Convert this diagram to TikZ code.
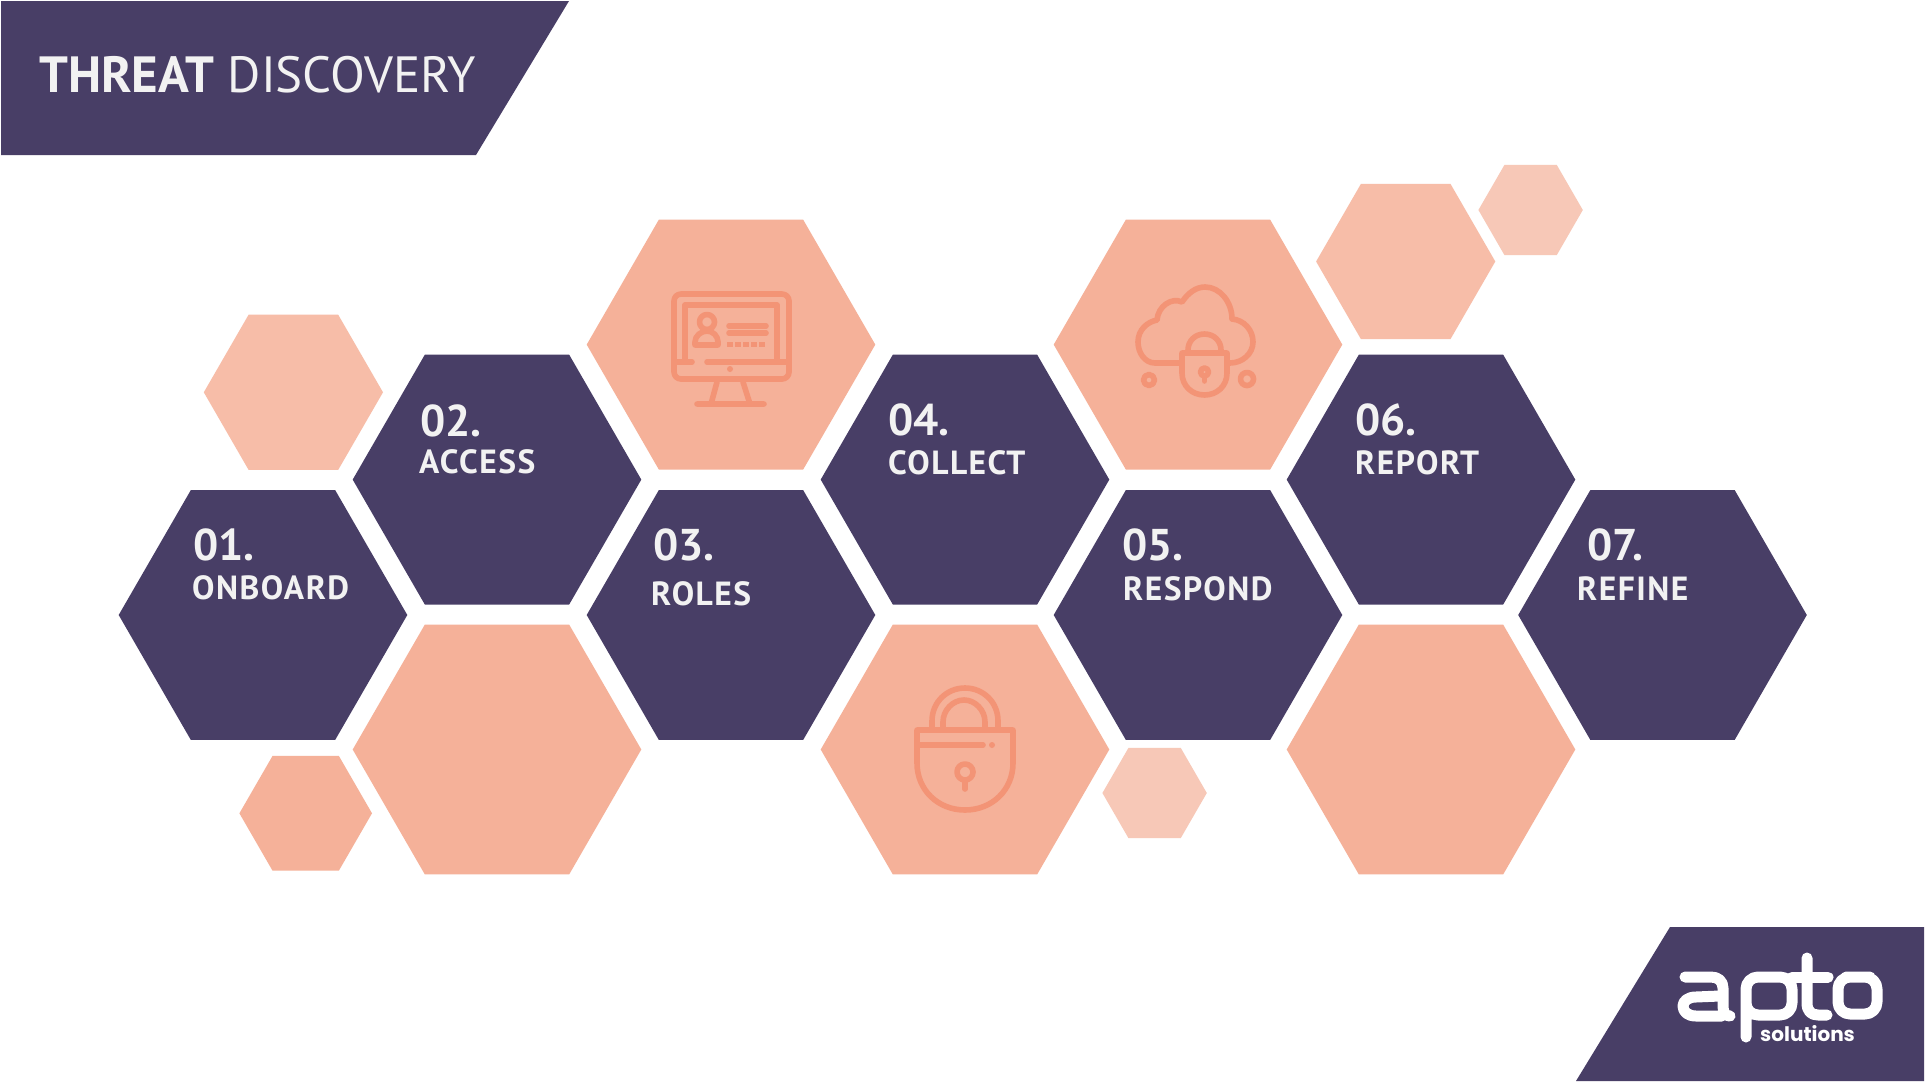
\documentclass[tikz,border=0pt]{standalone}
\usepackage{fontspec}
\setmainfont{PT Sans}
\newfontfamily\logofont{Poppins}
\newfontfamily\labfont[LetterSpace=4.5]{PT Sans}
\definecolor{navy}{HTML}{483E66}
\definecolor{peach}{HTML}{F5B199}
\definecolor{peachb}{HTML}{F7BDA8}
\definecolor{peachc}{HTML}{F7C8B7}
\definecolor{iconc}{HTML}{F39476}
\definecolor{paper}{HTML}{F2F2F2}
\newcommand{\hexa}[4]{\fill[#4] ({#1-#3},#2) -- ({#1-#3/2},{#2-.866*#3}) -- ({#1+#3/2},{#2-.866*#3}) -- ({#1+#3},#2) -- ({#1+#3/2},{#2+.866*#3}) -- ({#1-#3/2},{#2+.866*#3}) -- cycle;}
\tikzset{
 num/.style={anchor=base west,inner sep=0pt,text=paper,font=\fontsize{44.5}{44}\selectfont\bfseries},
 lab/.style={anchor=base west,inner sep=0pt,text=paper,font=\labfont\bfseries\fontsize{33.5}{33}\selectfont},
 icon/.style={draw=iconc,line width=5.6pt,line cap=round,line join=round},
 logo/.style={draw=white,line width=11pt,line cap=round,line join=round},
}
\begin{document}
\begin{tikzpicture}[x=1pt,y=-1pt]
\useasboundingbox (0,0) rectangle (1925,1082);
\fill[white] (0,0) rectangle (1925,1082);
% banners
\fill[navy] (1,1) -- (569,1) -- (476,155) -- (1,155) -- cycle;
\fill[navy] (1576,1081) -- (1670,927) -- (1924,927) -- (1924,1081) -- cycle;
% small
\hexa{293.4}{392.3}{89.6}{peachb}
\hexa{305.7}{813.3}{66.3}{peach}
\hexa{1154.6}{793}{52.2}{peachc}
\hexa{1405.7}{261.5}{89.6}{peachb}
\hexa{1530.6}{210}{52.2}{peachc}
% large peach
\hexa{731}{344.6}{144.3}{peach}
\hexa{1198}{344.6}{144.3}{peach}
\hexa{497}{749.5}{144.3}{peach}
\hexa{965}{749.5}{144.3}{peach}
\hexa{1431}{749.5}{144.3}{peach}
% navy
\hexa{263}{615}{144.3}{navy}
\hexa{497}{479.6}{144.3}{navy}
\hexa{731}{615}{144.3}{navy}
\hexa{965}{479.6}{144.3}{navy}
\hexa{1198}{615}{144.3}{navy}
\hexa{1431}{479.6}{144.3}{navy}
\hexa{1662.5}{615}{144.3}{navy}
% title
\node[anchor=base west,inner sep=0pt,text=paper,font=\fontsize{50.9}{52}\selectfont] (title) at (39,92) {\textbf{THREAT} DISCOVERY};
% labels
\node[num] (n1) at (193,560) {01.};
\node[lab] (l1) at (192,599.5) {ONBOARD};
\node[num] (n2) at (420,436) {02.};
\node[lab] (l2) at (419,473) {ACCESS};
\node[num] (n3) at (653,560) {03.};
\node[lab] (l3) at (651,605) {ROLES};
\node[num] (n4) at (888,435) {04.};
\node[lab] (l4) at (888,474) {COLLECT};
\node[num] (n5) at (1122,560) {05.};
\node[lab] (l5) at (1123,600) {RESPOND};
\node[num] (n6) at (1355,435) {06.};
\node[lab] (l6) at (1355,474) {REPORT};
\node[num] (n7) at (1587,560) {07.};
\node[lab] (l7) at (1577,600) {REFINE};
% monitor icon
\draw[icon,rounded corners=7pt] (674,362) -- (674,294) -- (789,294) -- (789,379) -- (674,379) -- cycle;
\draw[icon] (685,362) -- (685,305) -- (777,305) -- (777,362);
\draw[icon] (674,362) -- (692,362) (707,362) -- (789,362);
\fill[iconc] (730,369) circle (3pt);
\draw[icon] (717,382) -- (711,404) (743,382) -- (750,404) (697,404) -- (764,404);
\draw[icon] (707,322) circle (7.5pt);
\draw[icon] (695,345) -- (718,345) -- (718,342) .. controls (718,336) and (713,331) .. (707,331) .. controls (701,331) and (695,336) .. (695,342) -- cycle;
\draw[icon] (729,326) -- (766,326) (729,333) -- (766,333);
\foreach \q in {730,738,746,754,762} \fill[iconc] (\q-2.7,341.5) rectangle (\q+2.7,346.8);
% cloud lock icon
\draw[icon] (1182,363) -- (1155,363) .. controls (1145,363) and (1138,353) .. (1138,342) .. controls (1138,330) and (1147,322) .. (1157,320) .. controls (1158,306) and (1172,297) .. (1182,302) .. controls (1188,293) and (1196,287) .. (1205,287) .. controls (1220,287) and (1232,302) .. (1232,319) .. controls (1244,320) and (1253,330) .. (1253,342) .. controls (1253,354) and (1242,363) .. (1230,363);
\draw[icon] (1182,353) -- (1227,353) -- (1227,373) .. controls (1227,386) and (1217,395) .. (1204.5,395) .. controls (1192,395) and (1182,386) .. (1182,373) -- cycle;
\draw[icon] (1188,353) -- (1188,350) .. controls (1188,341) and (1195,334) .. (1204.5,334) .. controls (1214,334) and (1221,341) .. (1221,350) -- (1221,353);
\draw[icon] (1204.5,372) circle (4pt);
\draw[icon] (1204.5,376) -- (1204.5,381);
\draw[icon] (1149,380) circle (5.5pt);
\draw[icon] (1247,379) circle (6.5pt);
% padlock icon
\draw[icon] (917,730) -- (1013,730) -- (1013,763) .. controls (1013,790) and (992,810) .. (965,810) .. controls (938,810) and (917,790) .. (917,763) -- cycle;
\draw[icon] (932,730) -- (932,721) .. controls (932,702) and (947,688) .. (965,688) .. controls (983,688) and (998,702) .. (998,721) -- (998,730);
\draw[icon] (943,730) -- (943,722) .. controls (943,710) and (953,700) .. (964,700) .. controls (975,700) and (985,710) .. (985,722) -- (985,730);
\draw[icon] (918,745) -- (983,745);
\fill[iconc] (992,745) circle (3pt);
\draw[icon] (965,772) circle (8pt);
\draw[icon] (965,780) -- (965,789);
% logo
\draw[logo] (1685,977) -- (1711,977) .. controls (1718,977) and (1723,981) .. (1723,988) -- (1723,1006) .. controls (1723,1012) and (1725,1016) .. (1730,1016);
\draw[logo] (1720,996) -- (1696,997) .. controls (1688,997) and (1683,1001) .. (1683,1006) .. controls (1683,1012) and (1688,1016) .. (1696,1016) -- (1722,1016);
\draw[logo,rounded corners=12pt] (1746,1037) -- (1746,977) -- (1792,977) -- (1792,1015) -- (1746,1015) -- (1746,1000);
\draw[logo] (1807,958) -- (1807,1003) .. controls (1807,1011) and (1811,1015) .. (1818,1015) -- (1827,1015);
\draw[logo] (1792,977) -- (1828,977);
\draw[logo,rounded corners=12pt] (1858,977) -- (1877,977) -- (1877,1014) -- (1838,1014) -- (1838,977) -- cycle;
\node[anchor=base west,inner sep=0pt,text=white,font=\logofont\bfseries\fontsize{20}{20}\selectfont] (sol) at (1760,1041) {solutions};
\end{tikzpicture}
\end{document}
